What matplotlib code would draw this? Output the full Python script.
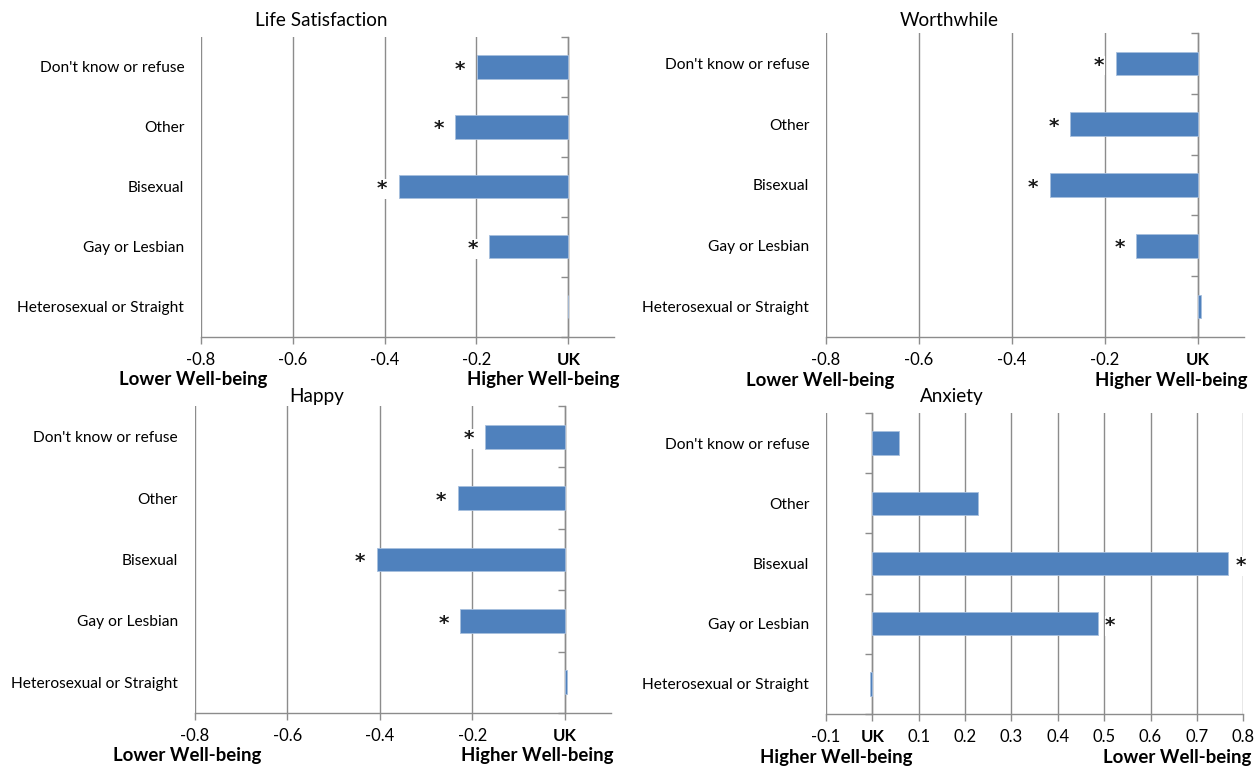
import matplotlib
matplotlib.use("Agg")
import matplotlib.pyplot as plt

plt.rcParams['font.family'] = ['Lato', 'DejaVu Sans']

# categories bottom to top
categories = ["Heterosexual or Straight", "Gay or Lesbian", "Bisexual", "Other", "Don't know or refuse"]

life_sat = [0.0, -0.172, -0.369, -0.246, -0.199]
life_sig = [False, True, True, True, True]
worthwhile = [0.0065, -0.1325, -0.319, -0.275, -0.177]
worth_sig = [False, True, True, True, True]
happy = [0.004, -0.226, -0.407, -0.231, -0.172]
happy_sig = [False, True, True, True, True]
anxiety = [-0.006, 0.486, 0.767, 0.227, 0.058]
anx_sig = [False, True, True, False, False]

neg_ticks = [-0.8, -0.6, -0.4, -0.2, 0.0]
neg_labels = ["-0.8", "-0.6", "-0.4", "-0.2", "UK"]
anx_ticks = [-0.1, 0.0, 0.1, 0.2, 0.3, 0.4, 0.5, 0.6, 0.7, 0.8]
anx_labels = ["-0.1", "UK", "0.1", "0.2", "0.3", "0.4", "0.5", "0.6", "0.7", "0.8"]

BAR = '#4f81bd'
GRID = '#8c8c8c'

fig = plt.figure(figsize=(12.57, 7.69), dpi=100)


def panel(rect, title, title_xy, values, sig, ticks, labels, xlim,
          left_txt, right_txt, end_pos, star_dx):
    ax = fig.add_axes(rect)
    y = range(len(categories))
    ax.barh(y, values, height=0.39, color=BAR, edgecolor='#a7bfde', linewidth=0.6, zorder=3)
    for yi, v, s in zip(y, values, sig):
        if s:
            dx = star_dx if v > 0 else -star_dx
            ax.annotate('*', (v, yi), xytext=(dx, -5.5), textcoords='offset points',
                        ha='center', va='baseline', fontsize=14.5, fontweight='bold',
                        family='DejaVu Sans', color='#1a1a1a', zorder=4,
                        bbox=dict(fc='white', ec='none', pad=0.3))
    ax.set_xlim(*xlim)
    ax.set_ylim(-0.5, len(categories) - 0.5)
    ax.set_xticks(ticks)
    ax.set_xticklabels(labels, fontsize=12)
    uk = labels.index("UK")
    ax.get_xticklabels()[uk].set_fontweight('bold')
    ax.set_yticks(list(y))
    ax.set_yticklabels(categories, fontsize=11.2)
    ax.tick_params(axis='y', length=0, pad=12)
    ax.tick_params(axis='x', length=5, width=1, color=GRID, pad=6)
    ax.grid(axis='x', color=GRID, linewidth=1, zorder=0)
    for side in ['top', 'right', 'left']:
        ax.spines[side].set_visible(False)
    ax.spines['bottom'].set_color(GRID)
    ax.spines['bottom'].set_linewidth(1)

    # vertical category axis crossing at UK (0)
    frac = (0 - xlim[0]) / (xlim[1] - xlim[0])
    sec = ax.secondary_yaxis(frac)
    sec.set_alignment('left')
    sec.set_yticks([i - 0.5 for i in range(len(categories) + 1)])
    sec.set_yticklabels([])
    sec.tick_params(axis='y', length=5, width=1, color=GRID)
    sec.spines['left'].set_color(GRID)
    sec.spines['left'].set_linewidth(1)

    ax.text(end_pos[0], end_pos[2], left_txt, transform=ax.transAxes, ha='center', va='center',
            fontsize=13.4, fontweight='bold')
    ax.text(end_pos[1], end_pos[2], right_txt, transform=ax.transAxes, ha='center', va='center',
            fontsize=13.4, fontweight='bold')
    fig.text(title_xy[0], title_xy[1], title, ha='center', va='center', fontsize=13.6)
    return ax


panel([0.1599, 0.5624, 0.3287, 0.3895], "Life Satisfaction", (0.2554, 0.973),
      life_sat, life_sig, neg_ticks, neg_labels, (-0.8, 0.1),
      "Lower Well-being", "Higher Well-being", (-0.019, 0.828, -0.142), 12)
panel([0.6571, 0.5618, 0.3329, 0.3953], "Worthwhile", (0.755, 0.973),
      worthwhile, worth_sig, neg_ticks, neg_labels, (-0.8, 0.1),
      "Lower Well-being", "Higher Well-being", (-0.014, 0.824, -0.142), 12)
panel([0.1549, 0.0728, 0.3312, 0.3992], "Happy", (0.252, 0.484),
      happy, happy_sig, neg_ticks, neg_labels, (-0.8, 0.1),
      "Lower Well-being", "Higher Well-being", (-0.017, 0.822, -0.137), 12)
panel([0.6571, 0.0715, 0.3320, 0.3914], "Anxiety", (0.757, 0.484),
      anxiety, anx_sig, anx_ticks, anx_labels, (-0.1, 0.8),
      "Higher Well-being", "Lower Well-being", (0.024, 0.842, -0.143), 9)

fig.savefig("out.png", dpi=100)
